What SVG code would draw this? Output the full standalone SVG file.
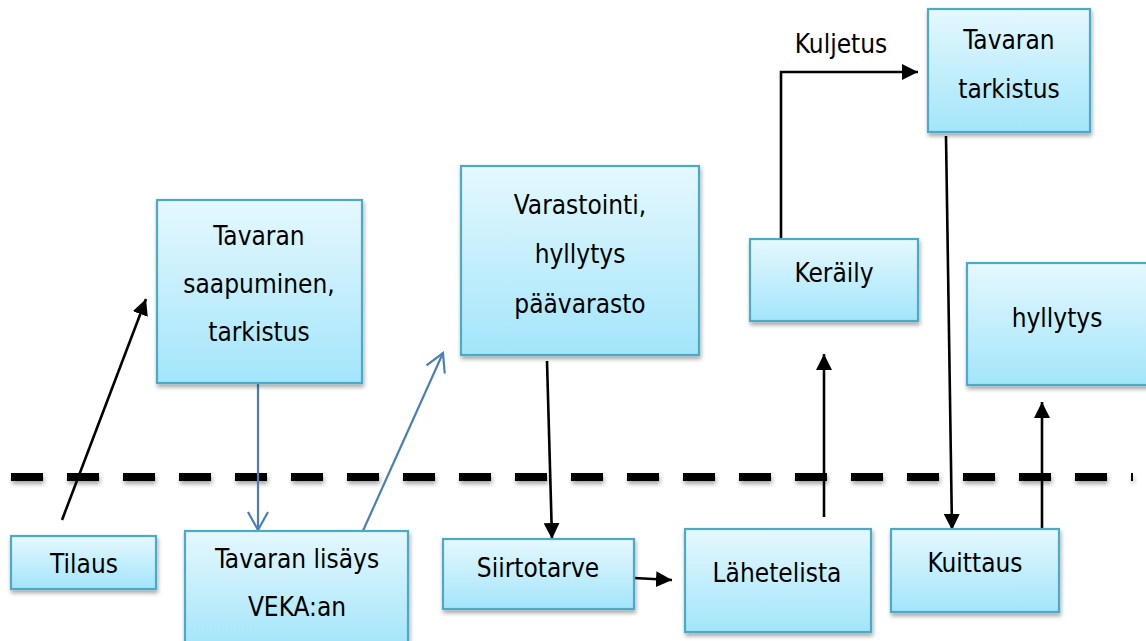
<svg xmlns="http://www.w3.org/2000/svg" width="1146" height="641" viewBox="0 0 1146 641">
  <defs>
    <linearGradient id="boxFill" x1="0" y1="0" x2="0" y2="1">
      <stop offset="0" stop-color="#e5f8fe"/>
      <stop offset="1" stop-color="#a3e5fa"/>
    </linearGradient>
    <filter id="shadow" x="-10%" y="-10%" width="120%" height="130%">
      <feDropShadow dx="1" dy="3" stdDeviation="2" flood-color="#000" flood-opacity="0.35"/>
    </filter>
    <!-- the dashed line has a flat bounding box, so its shadow region is given in user space -->
    <filter id="lineShadow" filterUnits="userSpaceOnUse" x="0" y="460" width="1146" height="40">
      <feDropShadow dx="1" dy="3" stdDeviation="2" flood-color="#000" flood-opacity="0.35"/>
    </filter>
    <marker id="arrowBlack" markerUnits="userSpaceOnUse" markerWidth="16" markerHeight="16" viewBox="0 0 16 16" refX="16" refY="8" orient="auto">
      <path d="M0,0 L16,8 L0,16 Z" fill="#000"/>
    </marker>
    <marker id="arrowBlue" markerUnits="userSpaceOnUse" markerWidth="22" markerHeight="24" viewBox="0 0 22 24" refX="20" refY="12" orient="auto">
      <path d="M2,2 L20,12 L2,22" fill="none" stroke="#4a7ebb" stroke-width="2.2"/>
    </marker>
  </defs>
  <style>
    .box { fill: url(#boxFill); stroke: #4babc6; stroke-width: 2.2; filter: url(#shadow); }
    .lbl { font-family: "DejaVu Sans", "Liberation Sans", sans-serif; font-stretch: condensed; font-size: 26px; fill: #000; text-anchor: middle; }
    .blk { stroke: #000; stroke-width: 2.6; fill: none; marker-end: url(#arrowBlack); }
    .blu { stroke: #4a7ebb; stroke-width: 2.2; fill: none; marker-end: url(#arrowBlue); }
  </style>

  <rect width="1146" height="641" fill="#fff"/>

  <!-- boundary line -->
  <line x1="11" y1="477" x2="1133" y2="477" stroke="#000" stroke-width="8" stroke-dasharray="32 24" filter="url(#lineShadow)"/>

  <!-- connectors -->
  <g id="connectors">
    <line class="blk" x1="62" y1="520" x2="146" y2="299"/>
    <line class="blu" x1="258" y1="383" x2="258" y2="530"/>
    <line class="blu" x1="362" y1="533" x2="443" y2="353"/>
    <line class="blk" x1="547" y1="361" x2="552" y2="539"/>
    <line class="blk" x1="634" y1="578" x2="672" y2="580"/>
    <line class="blk" x1="824" y1="517" x2="824" y2="354"/>
    <polyline class="blk" points="781,239 781,72 918,72"/>
    <text class="lbl" x="841" y="53">Kuljetus</text>
    <line class="blk" x1="946" y1="136" x2="952" y2="530"/>
    <line class="blk" x1="1042" y1="532" x2="1042" y2="402"/>
  </g>

  <!-- nodes -->
  <g id="tilaus">
    <rect class="box" x="11" y="536" width="145" height="53"/>
    <text class="lbl" x="84" y="573">Tilaus</text>
  </g>
  <g id="tavaran-saapuminen">
    <rect class="box" x="157" y="200" width="205" height="183"/>
    <text class="lbl" x="259" y="245">Tavaran</text>
    <text class="lbl" x="259" y="293">saapuminen,</text>
    <text class="lbl" x="259" y="341">tarkistus</text>
  </g>
  <g id="tavaran-lisays">
    <rect class="box" x="185" y="531" width="223" height="116"/>
    <text class="lbl" x="297" y="568">Tavaran lisäys</text>
    <text class="lbl" x="297" y="616">VEKA:an</text>
  </g>
  <g id="varastointi">
    <rect class="box" x="461" y="166" width="238" height="189"/>
    <text class="lbl" x="580" y="214">Varastointi,</text>
    <text class="lbl" x="580" y="263">hyllytys</text>
    <text class="lbl" x="580" y="313">päävarasto</text>
  </g>
  <g id="siirtotarve">
    <rect class="box" x="443" y="539" width="191" height="70"/>
    <text class="lbl" x="538" y="577">Siirtotarve</text>
  </g>
  <g id="lahetelista">
    <rect class="box" x="685" y="529" width="186" height="103"/>
    <text class="lbl" x="777" y="582">Lähetelista</text>
  </g>
  <g id="keraily">
    <rect class="box" x="750" y="239" width="168" height="82"/>
    <text class="lbl" x="834" y="282">Keräily</text>
  </g>
  <g id="tavaran-tarkistus">
    <rect class="box" x="928" y="9" width="162" height="123"/>
    <text class="lbl" x="1009" y="49">Tavaran</text>
    <text class="lbl" x="1009" y="98">tarkistus</text>
  </g>
  <g id="hyllytys">
    <rect class="box" x="967" y="263" width="185" height="122"/>
    <text class="lbl" x="1057" y="327">hyllytys</text>
  </g>
  <g id="kuittaus">
    <rect class="box" x="891" y="529" width="168" height="83"/>
    <text class="lbl" x="975" y="572">Kuittaus</text>
  </g>
</svg>
